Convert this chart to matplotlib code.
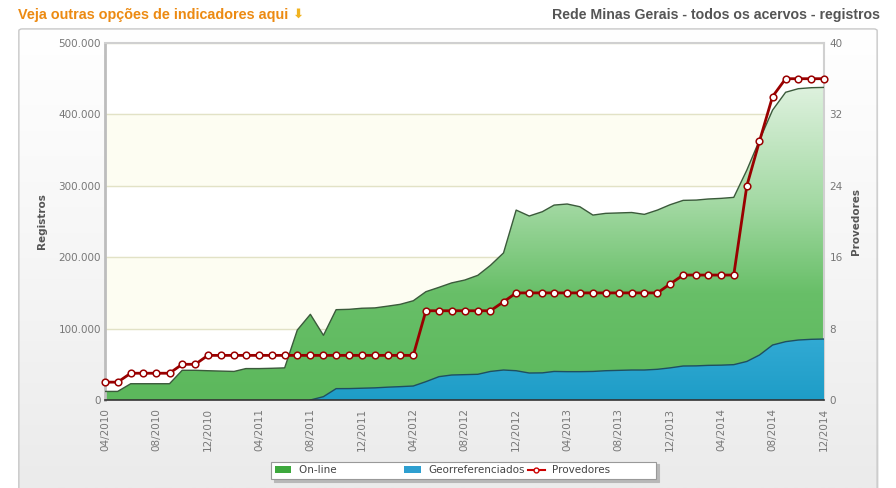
import numpy as np
import pandas as pd
import matplotlib
matplotlib.use("Agg")
import matplotlib.pyplot as plt
import matplotlib.dates as mdates
from matplotlib.colors import LinearSegmentedColormap
from matplotlib.patches import Patch, FancyBboxPatch
from matplotlib.lines import Line2D
from matplotlib.ticker import FuncFormatter

# monthly data, 04/2010 .. 12/2014
months = pd.date_range("2010-04-01", "2014-12-01", freq="MS")

online = [12000, 12000, 22800, 22800, 22800, 22800, 41600, 41600, 41000, 40500,
          40000, 44000, 44000, 44400, 45000, 98000, 120000, 90600, 126500, 127000,
          128500, 129000, 131500, 134000, 139000, 151700, 157800, 164000, 168000, 174600,
          188600, 206000, 266000, 257700, 263700, 273000, 274500, 270700, 259000, 261400,
          262000, 262600, 260000, 266000, 273500, 279600, 280000, 281500, 282400, 283800,
          322000, 364000, 406000, 431000, 436000, 437400, 437800]

georref = [0, 0, 0, 0, 0, 0, 0, 0, 0, 0,
           0, 0, 0, 0, 0, 0, 0, 4700, 15900, 16000,
           16500, 17000, 18000, 18700, 19600, 25700, 32700, 35000, 35500, 36000,
           40000, 42000, 41000, 37800, 38000, 40000, 39700, 39700, 40000, 41000,
           41500, 42000, 42000, 43000, 45000, 47600, 47800, 48500, 48800, 49500,
           54000, 63000, 77000, 81700, 84000, 85000, 85400]

provedores = [2, 2, 3, 3, 3, 3, 4, 4, 5, 5,
              5, 5, 5, 5, 5, 5, 5, 5, 5, 5,
              5, 5, 5, 5, 5, 10, 10, 10, 10, 10,
              10, 11, 12, 12, 12, 12, 12, 12, 12, 12,
              12, 12, 12, 12, 13, 14, 14, 14, 14, 14,
              24, 29, 34, 36, 36, 36, 36]

legend_labels = ["On-line", "Georreferenciados", "Provedores"]

tick_months = months[::4]

W, H = 896, 488
fig = plt.figure(figsize=(W / 100, H / 100), dpi=100)
fig.patch.set_facecolor("white")

# panel background with soft vertical gradient
bg = fig.add_axes([18 / W, 0, (878 - 18) / W, 1 - 28 / H])
bg.set_axis_off()
grad = np.linspace(0, 1, 256).reshape(-1, 1)
bg_cmap = LinearSegmentedColormap.from_list("bg", ["#ebebeb", "#f6f6f6", "#ffffff"])
bg.imshow(grad, aspect="auto", cmap=bg_cmap, origin="lower", extent=[0, 1, 0, 1])
bg.add_patch(FancyBboxPatch((0.001, -0.05), 0.998, 1.048, boxstyle="round,pad=0,rounding_size=0.004",
                            transform=bg.transAxes, facecolor="none", edgecolor="#c8c8c8", lw=1))
bg.set_xlim(0, 1)
bg.set_ylim(0, 1)

x = mdates.date2num(months.to_pydatetime())

ax = fig.add_axes([105 / W, 1 - 400 / H, 719 / W, 357 / H])
ax.set_facecolor("white")
ax.axhspan(100000, 200000, color="#fdfdf2", zorder=0)
ax.axhspan(300000, 400000, color="#fdfdf2", zorder=0)
ax.yaxis.grid(True, color="#e2e2c6", lw=1)
ax.set_axisbelow(True)

green_cmap = LinearSegmentedColormap.from_list(
    "g", [(0, "#5cb85c"), (0.3, "#68bf68"), (0.55, "#a3d9a3"), (0.9, "#e2f3e2"), (1, "#eef8ee")])
blue_cmap = LinearSegmentedColormap.from_list(
    "b", [(0, "#1e9dc7"), (0.2, "#35acd6"), (1, "#7fd0ee")])

extent = [x[0], x[-1], 0, 500000]

p_on = ax.fill_between(x, 0, online, facecolor="none", edgecolor="none", zorder=2)
im = ax.imshow(grad, aspect="auto", cmap=green_cmap, origin="lower", extent=extent, zorder=2)
im.set_clip_path(p_on.get_paths()[0], transform=ax.transData)
ax.plot(x, online, color="#3b5a3b", lw=1, zorder=3)

p_geo = ax.fill_between(x, 0, georref, facecolor="none", edgecolor="none", zorder=4)
im2 = ax.imshow(grad, aspect="auto", cmap=blue_cmap, origin="lower", extent=extent, zorder=4)
im2.set_clip_path(p_geo.get_paths()[0], transform=ax.transData)
ax.plot(x[16:], georref[16:], color="#1f4f60", lw=1, zorder=5)

ax.set_xlim(x[0], x[-1])
ax.set_ylim(0, 500000)
ax.set_yticks(range(0, 500001, 100000))
ax.yaxis.set_major_formatter(FuncFormatter(lambda v, p: f"{int(v):,}".replace(",", ".")))
ax.set_xticks(mdates.date2num(tick_months.to_pydatetime()))
ax.set_xticklabels(tick_months.strftime("%m/%Y"), rotation=90, va="top", ha="center")
ax.tick_params(axis="both", length=0, colors="#777777", labelsize=7.5)
ax.tick_params(axis="x", pad=6)
ax.tick_params(axis="y", pad=3)
ax.set_ylabel("Registros", fontsize=7.5, fontweight="bold", color="#555555", labelpad=8)

for side in ["top", "right"]:
    ax.spines[side].set_color("#d0d0d0")
    ax.spines[side].set_linewidth(1.5)
ax.spines["left"].set_color("#bdbdbd")
ax.spines["left"].set_linewidth(2)
ax.spines["bottom"].set_color("#333333")
ax.spines["bottom"].set_linewidth(1.2)
ax.spines["bottom"].set_zorder(6)

ax2 = ax.twinx()
ax2.plot(x, provedores, color="#990000", lw=2, marker="o", ms=4.8,
         mfc="white", mec="#990000", mew=1.1, zorder=6, clip_on=False)
ax2.set_ylim(0, 40)
ax2.set_yticks(range(0, 41, 8))
ax2.tick_params(axis="y", length=0, colors="#777777", labelsize=7.5, pad=4)
ax2.set_ylabel("Provedores", fontsize=7.5, fontweight="bold", color="#555555", labelpad=6)
for s in ax2.spines.values():
    s.set_visible(False)

# header texts
fig.text(18 / W, 1 - 15 / H, "Veja outras opções de indicadores aqui", color="#ec8a12",
         fontsize=10.4, fontweight="bold", family="Liberation Sans", va="center", ha="left")
fig.text(298 / W, 1 - 14 / H, "\u2b07", color="#f1b320", fontsize=9.5, fontweight="bold",
         family="DejaVu Sans", va="center", ha="center")
fig.text(880 / W, 1 - 15 / H, "Rede Minas Gerais - todos os acervos - registros", color="#555555",
         fontsize=10.2, fontweight="bold", family="Liberation Sans", va="center", ha="right")

# legend (fixed-width columns as in the original widget)
handles = [Patch(facecolor="#3da83d", edgecolor="none"),
           Patch(facecolor="#2e9fd0", edgecolor="none"),
           Line2D([], [], color="#cc0000", lw=1.5, marker="o", ms=3.5, mfc="white", mec="#cc0000")]
padded = [legend_labels[0] + " " * 20, legend_labels[1], legend_labels[2] + " " * 13]
leg = fig.legend(handles, padded, ncol=3,
                 loc="lower left", bbox_to_anchor=(271 / W, 1 - 479 / H),
                 fontsize=7.5, frameon=True, fancybox=False,
                 shadow={"facecolor": "#b8b8b8", "edgecolor": "#b8b8b8", "alpha": 1},
                 handlelength=1.6, handleheight=0.6, handletextpad=0.7, columnspacing=0.3,
                 borderaxespad=0, borderpad=0.35)
leg.get_frame().set_edgecolor("#999999")
leg.get_frame().set_linewidth(0.8)
for t in leg.get_texts():
    t.set_color("#444444")

fig.savefig("out.png", dpi=100)
